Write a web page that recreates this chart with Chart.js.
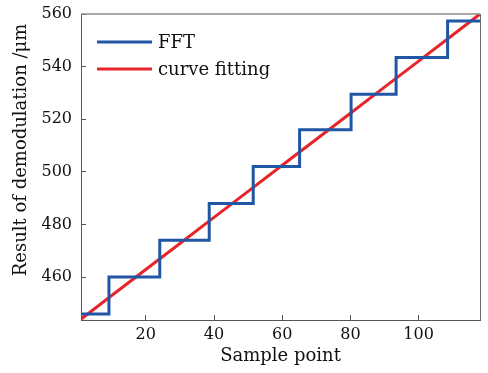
<!DOCTYPE html>
<html><head><meta charset="utf-8">
<script src="https://cdn.jsdelivr.net/npm/chart.js@4.4.0/dist/chart.umd.min.js"></script>
<style>html,body{margin:0;padding:0;background:#fff;}#wrap{width:488px;height:373px;}</style>
</head><body><div id="wrap"><canvas id="c" width="488" height="373"></canvas></div>
<script>
// ---- data ----
const seriesNames = ['FFT', 'curve fitting'];
const fftX = [1, 9.2, 24.1, 38.6, 51.5, 65.1, 80.2, 93.4, 108.5, 118];
const fftY = [446, 460, 474, 488, 502, 516, 529.5, 543.5, 557.3, 557.3];
const fitX = [1, 10, 20, 30, 40, 50, 60, 70, 80, 90, 100, 110, 118];
const fitY = [444, 453, 462.9, 472.8, 482.7, 492.6, 502.5, 512.4, 522.3, 532.2, 542.1, 552, 560];
const xTicks = [20, 40, 60, 80, 100];
const yTicks = [460, 480, 500, 520, 540, 560];
const xRange = [1, 118];
const yRange = [443.7, 560];
const xTitle = 'Sample point';
const yTitle = 'Result of demodulation /μm';

const FONT = 'DejaVu Serif';
const colors = ['#2156a5', '#e8242b'];

const toPts = (xs, ys) => xs.map((x, i) => ({x: x, y: ys[i]}));

const framePlugin = {
  id: 'frame',
  afterDraw(chart) {
    const {ctx, chartArea: {left, top, right, bottom}} = chart;
    ctx.save();
    ctx.strokeStyle = '#8c8c8c';
    ctx.lineWidth = 1.5;
    ctx.beginPath(); ctx.moveTo(left, top); ctx.lineTo(right, top); ctx.stroke();
    ctx.strokeStyle = '#6a6a6a';
    ctx.lineWidth = 1;
    ctx.beginPath(); ctx.moveTo(right + 0.5, top); ctx.lineTo(right + 0.5, bottom); ctx.stroke();
    // y-axis title
    ctx.fillStyle = '#111';
    ctx.font = '18px "' + FONT + '"';
    ctx.textAlign = 'center';
    ctx.textBaseline = 'middle';
    ctx.translate(21, top + 136);
    ctx.rotate(-Math.PI / 2);
    ctx.fillText(yTitle, 0, 0);
    ctx.restore();
    // legend inside plot
    ctx.save();
    ctx.font = '18px "' + FONT + '"';
    ctx.textAlign = 'left';
    ctx.textBaseline = 'middle';
    chart.data.datasets.forEach((ds, i) => {
      const y = top + 28 + i * 27;
      ctx.strokeStyle = ds.borderColor;
      ctx.lineWidth = 3;
      ctx.beginPath(); ctx.moveTo(left + 16, y); ctx.lineTo(left + 71, y); ctx.stroke();
      ctx.fillStyle = '#111';
      ctx.fillText(ds.label, left + 77, y + 1);
    });
    ctx.restore();
  }
};

new Chart(document.getElementById('c'), {
  type: 'line',
  data: {
    datasets: [
      {label: seriesNames[0], data: toPts(fftX, fftY), borderColor: colors[0], backgroundColor: colors[0],
       borderWidth: 3, pointRadius: 0, stepped: 'before', fill: false},
      {label: seriesNames[1], data: toPts(fitX, fitY), borderColor: colors[1], backgroundColor: colors[1],
       borderWidth: 3, pointRadius: 0, fill: false, tension: 0}
    ]
  },
  options: {
    responsive: false,
    devicePixelRatio: 1,
    animation: false,
    events: [],
    layout: {padding: {top: 14, right: 8, left: 0, bottom: 0}},
    plugins: {legend: {display: false}, tooltip: {enabled: false}},
    scales: {
      x: {
        type: 'linear', min: xRange[0], max: xRange[1],
        afterBuildTicks: s => { s.ticks = xTicks.map(v => ({value: v})); },
        afterFit: s => { s.height = 53; s.paddingLeft = 0; s.paddingRight = 0; },
        grid: {drawOnChartArea: false, tickLength: -5, color: '#555', lineWidth: 1},
        border: {display: true, color: '#555', width: 1},
        ticks: {font: {family: FONT, size: 16}, color: '#111', padding: 10, maxRotation: 0, autoSkip: false},
        title: {display: true, text: xTitle, font: {family: FONT, size: 18}, color: '#111', padding: {top: 0, bottom: 6}}
      },
      y: {
        type: 'linear', min: yRange[0], max: yRange[1],
        afterBuildTicks: s => { s.ticks = yTicks.map(v => ({value: v})); },
        afterFit: s => { s.width = 81; s.paddingTop = 0; s.paddingBottom = 0; },
        grid: {drawOnChartArea: false, tickLength: -5, color: '#555', lineWidth: 1},
        border: {display: true, color: '#555', width: 1},
        ticks: {font: {family: FONT, size: 16}, color: '#111', padding: 14, autoSkip: false},
        title: {display: false}
      }
    }
  },
  plugins: [framePlugin]
});
</script></body></html>
